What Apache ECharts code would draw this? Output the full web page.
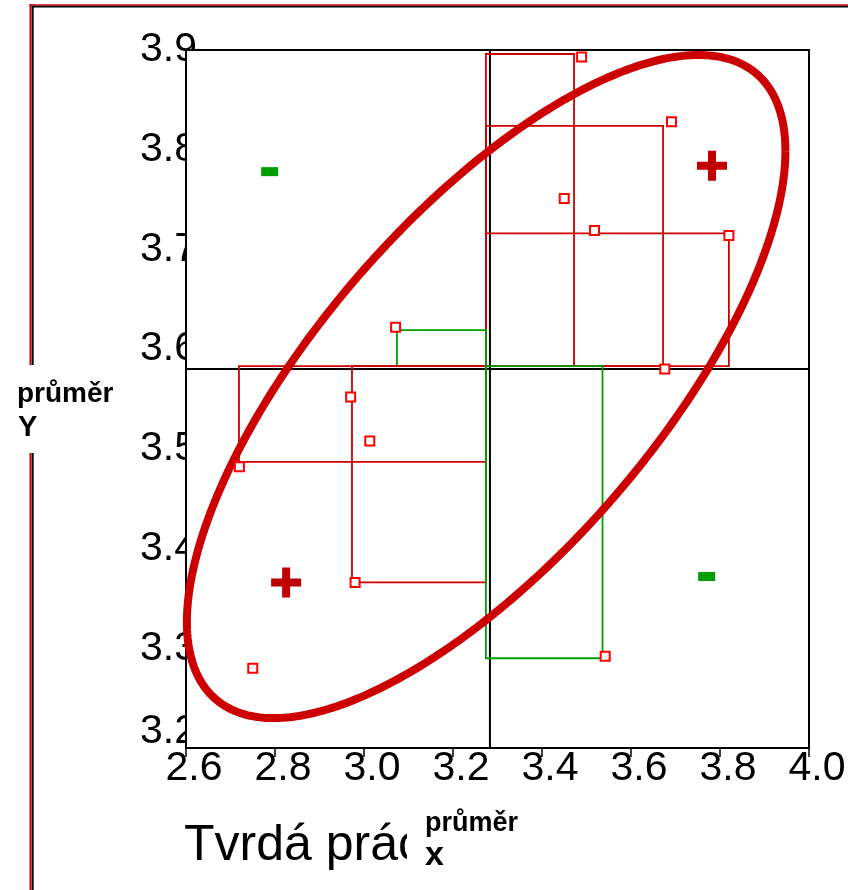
<!DOCTYPE html>
<html>
<head>
<meta charset="utf-8">
<script src="https://cdn.jsdelivr.net/npm/echarts@6/dist/echarts.min.js"></script>
<style>
  html, body { margin: 0; padding: 0; background: #fff; }
  #chart { width: 848px; height: 890px; }
</style>
</head>
<body>
<div id="chart"></div>
<script>
// Axis ticks
const xTicks = [2.6, 2.8, 3.0, 3.2, 3.4, 3.6, 3.8, 4.0];
const yTicks = [3.2, 3.3, 3.4, 3.5, 3.6, 3.7, 3.8, 3.9];

// Observations: Tvrdá práce (x) against Y
const pointX = [3.489, 3.691, 3.450, 3.518, 3.820, 3.676, 3.071, 2.970, 3.013, 2.720, 2.980, 2.750, 3.542];
const pointY = [3.893, 3.828, 3.751, 3.719, 3.714, 3.580, 3.622, 3.552, 3.508, 3.482, 3.366, 3.280, 3.292];

// Means (průměr x, průměr Y)
const meanX = 3.283;
const meanY = 3.580;

// Deviation rectangles, spanned between the anchor and each corner
const rectAnchor = [3.274, 3.583];
const rectCornerX = [3.472, 3.672, 3.820, 3.074, 2.719, 2.973, 3.536];
const rectCornerY = [3.896, 3.824, 3.716, 3.619, 3.487, 3.366, 3.290];

// Quadrant signs
const plusX = [3.782, 2.825];
const plusY = [3.784, 3.366];
const minusX = [2.788, 3.770];
const minusY = [3.778, 3.372];

// Correlation ellipse parameters
const ellipseCenter = [3.2745, 3.5625];
const ellipseHalfX = 0.6725;
const ellipseHalfY = 0.3325;
const ellipseRho = 0.71;

const step = (t) => Math.round((t[1] - t[0]) * 1e6) / 1e6;
const pairs = (xs, ys) => xs.map((x, i) => [x, ys[i]]);

function ellipsePath(n) {
  const out = [];
  const s = Math.sqrt(1 - ellipseRho * ellipseRho);
  for (let k = 0; k <= n; k++) {
    const t = 2 * Math.PI * k / n;
    out.push([
      ellipseCenter[0] + ellipseHalfX * Math.cos(t),
      ellipseCenter[1] + ellipseHalfY * (ellipseRho * Math.cos(t) + s * Math.sin(t))
    ]);
  }
  return out;
}

const FONT = '"Liberation Sans", Arial, sans-serif';
const RED = '#cc0000';
const GREEN = '#00a000';

const chart = echarts.init(document.getElementById('chart'), null, { renderer: 'canvas' });

chart.setOption({
  animation: false,
  backgroundColor: '#fff',
  grid: {
    left: 186, top: 50, width: 623, height: 698,
    show: true, borderColor: '#000', borderWidth: 2, backgroundColor: 'transparent',
    containLabel: false, outerBoundsMode: 'none'
  },
  xAxis: {
    type: 'value',
    min: xTicks[0], max: xTicks[xTicks.length - 1], interval: step(xTicks),
    z: 3,
    axisLine: { show: true, onZero: false, lineStyle: { color: '#000', width: 2 } },
    axisTick: { show: true, inside: false, length: 9, lineStyle: { color: '#000', width: 1.5 } },
    splitLine: { show: false },
    axisLabel: {
      margin: 0, color: '#000', fontSize: 41, fontFamily: FONT, padding: [0, 0, 0, 16],
      formatter: (v) => xTicks.find((t) => Math.abs(t - v) < 1e-6).toFixed(1)
    }
  },
  yAxis: {
    type: 'value',
    min: yTicks[0], max: yTicks[yTicks.length - 1], interval: step(yTicks),
    z: 0,
    axisLine: { show: true, onZero: false, lineStyle: { color: '#000', width: 2 } },
    axisTick: { show: false },
    splitLine: { show: false },
    axisLabel: {
      margin: -11, color: '#000', fontSize: 41, fontFamily: FONT,
      formatter: (v) => {
        const label = yTicks.find((t) => Math.abs(t - v) < 1e-6).toFixed(1);
        return Math.abs(v - yTicks[0]) < 1e-6 ? '{lo|' + label + '}' : label;
      },
      rich: {
        lo: { fontSize: 41, fontFamily: FONT, color: '#000', padding: [0, 0, 32, 0] }
      }
    }
  },
  graphic: [
    // plot face, drawn above the y tick labels so they tuck under the frame
    { type: 'rect', silent: true, z: 1, shape: { x: 187, y: 51, width: 621, height: 696 }, style: { fill: '#fff' } },

    // y axis title
    { type: 'text', z: 10, x: 17, y: 394, style: { text: 'průměr', fontSize: 28, fontWeight: 'bold', fontFamily: FONT, fill: '#000', align: 'left', verticalAlign: 'middle' } },
    { type: 'text', z: 10, x: 18, y: 428, style: { text: 'Y', fontSize: 29, fontWeight: 'bold', fontFamily: FONT, fill: '#000', align: 'left', verticalAlign: 'middle' } },

    // x axis title
    { type: 'text', z: 9, x: 184, y: 846, style: { text: 'Tvrdá práce', fontSize: 50, fontFamily: FONT, fill: '#000', align: 'left', verticalAlign: 'middle' } },
    { type: 'rect', silent: true, z: 10, shape: { x: 407, y: 803, width: 140, height: 87 }, style: { fill: '#fff' } },
    { type: 'text', z: 11, x: 425, y: 824, style: { text: 'průměr', fontSize: 27, fontWeight: 'bold', fontFamily: FONT, fill: '#000', align: 'left', verticalAlign: 'middle' } },
    { type: 'text', z: 11, x: 425, y: 856, style: { text: 'x', fontSize: 34, fontWeight: 'bold', fontFamily: FONT, fill: '#000', align: 'left', verticalAlign: 'middle' } },

    // page frame
    { type: 'line', silent: true, z: 20, shape: { x1: 29.5, y1: 5, x2: 848, y2: 5 }, style: { stroke: RED, lineWidth: 1.7 } },
    { type: 'line', silent: true, z: 20, shape: { x1: 31.7, y1: 6.6, x2: 848, y2: 6.6 }, style: { stroke: '#000', lineWidth: 1.7 } },
    { type: 'line', silent: true, z: 20, shape: { x1: 30.5, y1: 4.2, x2: 30.5, y2: 365 }, style: { stroke: RED, lineWidth: 2 } },
    { type: 'line', silent: true, z: 20, shape: { x1: 32.7, y1: 5.8, x2: 32.7, y2: 365 }, style: { stroke: '#000', lineWidth: 2 } },
    { type: 'line', silent: true, z: 20, shape: { x1: 30.5, y1: 453, x2: 30.5, y2: 890 }, style: { stroke: RED, lineWidth: 2 } },
    { type: 'line', silent: true, z: 20, shape: { x1: 32.7, y1: 453, x2: 32.7, y2: 890 }, style: { stroke: '#000', lineWidth: 2 } }
  ],
  series: [
    {
      name: 'průměr x',
      type: 'line', z: 2, silent: true, showSymbol: false, symbol: 'none',
      data: [[meanX, yTicks[0]], [meanX, yTicks[yTicks.length - 1]]],
      lineStyle: { color: '#000', width: 2 }
    },
    {
      name: 'průměr Y',
      type: 'line', z: 2, silent: true, showSymbol: false, symbol: 'none',
      data: [[xTicks[0], meanY], [xTicks[xTicks.length - 1], meanY]],
      lineStyle: { color: '#000', width: 2 }
    },
    {
      name: 'odchylky',
      type: 'custom', coordinateSystem: 'cartesian2d', z: 3, silent: true,
      data: pairs(rectCornerX, rectCornerY),
      renderItem: (params, api) => {
        const vx = api.value(0), vy = api.value(1);
        const p0 = api.coord(rectAnchor);
        const p1 = api.coord([vx, vy]);
        const positive = (vx - rectAnchor[0]) * (vy - rectAnchor[1]) > 0;
        return {
          type: 'rect',
          shape: {
            x: Math.min(p0[0], p1[0]), y: Math.min(p0[1], p1[1]),
            width: Math.abs(p1[0] - p0[0]), height: Math.abs(p1[1] - p0[1])
          },
          style: { fill: 'none', stroke: positive ? RED : GREEN, lineWidth: 1.8 }
        };
      }
    },
    {
      name: 'elipsa',
      type: 'line', z: 4, silent: true, showSymbol: false, symbol: 'none', clip: false,
      data: ellipsePath(360),
      lineStyle: { color: RED, width: 8, join: 'round' }
    },
    {
      name: 'body',
      type: 'scatter', z: 6, silent: true,
      symbol: 'rect', symbolSize: 9,
      data: pairs(pointX, pointY),
      itemStyle: { color: '#fff', borderColor: '#ff0000', borderWidth: 2, opacity: 1 }
    },
    {
      name: '+',
      type: 'scatter', z: 6, silent: true,
      symbol: 'path://M11,0H19V11H30V19H19V30H11V19H0V11H11Z', symbolSize: 30,
      data: pairs(plusX, plusY),
      itemStyle: { color: '#c00000', opacity: 1 }
    },
    {
      name: '-',
      type: 'scatter', z: 6, silent: true,
      symbol: 'rect', symbolSize: [17, 9],
      data: pairs(minusX, minusY),
      itemStyle: { color: '#009e00', opacity: 1 }
    }
  ]
});
</script>
</body>
</html>
